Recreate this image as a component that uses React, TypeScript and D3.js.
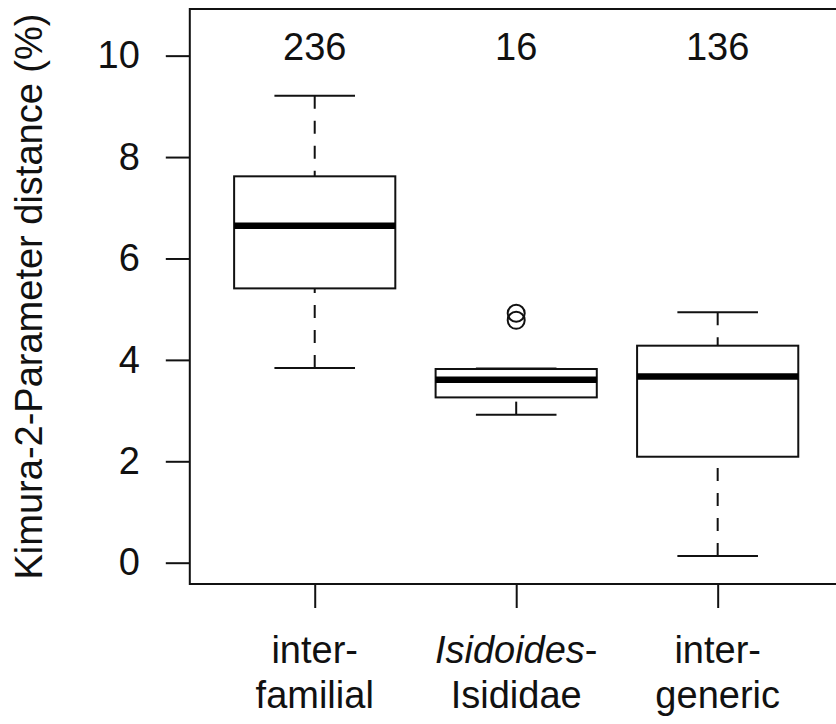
import React, { useEffect, useRef } from 'react';
import * as d3 from 'd3';

// box statistics (K2P distance, %)
const groupLine1 = ['inter-', 'Isidoides', 'inter-'];
const groupLine2 = ['familial', 'Isididae', 'generic'];
const counts = [236, 16, 136];
const whiskerLow = [3.84, 2.92, 0.13];
const q1 = [5.41, 3.26, 2.09];
const median = [6.645, 3.61, 3.67];
const q3 = [7.62, 3.82, 4.28];
const whiskerHigh = [9.21, 3.83, 4.94];
const outliers = [[], [4.78, 4.92], []];
const yTicks = [0, 2, 4, 6, 8, 10];

const App = () => {
    const ref = useRef<SVGSVGElement>(null);

    useEffect(() => {
        const width = 836;
        const height = 724;
        const font = '"Liberation Sans", Arial, Helvetica, sans-serif';
        const fs = 38;

        const svg = d3.select(ref.current)
            .attr('width', width)
            .attr('height', height);
        svg.selectAll('*').remove();

        const x = d3.scaleLinear().domain([0.38, 3.62]).range([189.8, 842.6]);
        const y = d3.scaleLinear().domain([-0.42, 10.92]).range([584, 9]);
        const idx = d3.range(counts.length);
        const boxW = x(1.4) - x(1);
        const capW = x(1.2) - x(1);

        // frame
        svg.append('rect')
            .attr('x', x(0.38))
            .attr('y', y(10.92))
            .attr('width', x(3.62) - x(0.38))
            .attr('height', y(-0.42) - y(10.92))
            .attr('fill', 'none')
            .attr('stroke', '#111')
            .attr('stroke-width', 2);

        // y axis
        const yAxis = svg.append('g')
            .attr('transform', `translate(${x(0.38)},0)`)
            .call(d3.axisLeft(y).tickValues(yTicks).tickSize(24).tickPadding(26).tickFormat(d3.format('d')));
        yAxis.select('.domain').remove();
        yAxis.selectAll('line').attr('stroke', '#111').attr('stroke-width', 2);
        yAxis.selectAll('text')
            .attr('font-family', font)
            .attr('font-size', fs)
            .attr('fill', '#111');

        // x axis ticks
        const xAxis = svg.append('g')
            .attr('transform', `translate(0,${y(-0.42)})`)
            .call(d3.axisBottom(x).tickValues([1, 2, 3]).tickSize(24).tickFormat(() => ''));
        xAxis.select('.domain').remove();
        xAxis.selectAll('line').attr('stroke', '#111').attr('stroke-width', 2);

        // x labels (two lines)
        const lab = svg.append('g')
            .attr('font-family', font)
            .attr('font-size', fs)
            .attr('fill', '#111')
            .attr('text-anchor', 'middle');
        idx.forEach(i => {
            const t1 = lab.append('text').attr('x', x(i + 1)).attr('y', 663);
            if (i === 1) {
                t1.append('tspan').attr('font-style', 'italic').text(groupLine1[i]);
                t1.append('tspan').text('-');
            } else {
                t1.text(groupLine1[i]);
            }
            lab.append('text').attr('x', x(i + 1)).attr('y', 708).text(groupLine2[i]);
        });

        // y title
        svg.append('text')
            .attr('transform', `translate(42,${(y(10.92) + y(-0.42)) / 2}) rotate(-90)`)
            .attr('text-anchor', 'middle')
            .attr('font-family', font)
            .attr('font-size', fs)
            .attr('fill', '#111')
            .text('Kimura-2-Parameter distance (%)');

        // sample sizes
        svg.append('g').selectAll('text')
            .data(idx)
            .enter()
            .append('text')
            .attr('x', i => x(i + 1))
            .attr('y', 60)
            .attr('text-anchor', 'middle')
            .attr('font-family', font)
            .attr('font-size', fs)
            .attr('fill', '#111')
            .text(i => counts[i]);

        const g = svg.append('g').attr('stroke', '#111').attr('fill', 'none');

        // whiskers, drawn from the cap towards the box
        idx.forEach(i => {
            const cx = x(i + 1);
            g.append('line')
                .attr('x1', cx).attr('x2', cx)
                .attr('y1', y(whiskerHigh[i])).attr('y2', y(q3[i]))
                .attr('stroke-width', 2).attr('stroke-dasharray', '13,12');
            g.append('line')
                .attr('x1', cx).attr('x2', cx)
                .attr('y1', y(whiskerLow[i])).attr('y2', y(q1[i]))
                .attr('stroke-width', 2).attr('stroke-dasharray', '13,12');
            [whiskerHigh[i], whiskerLow[i]].forEach(v => {
                g.append('line')
                    .attr('x1', cx - capW).attr('x2', cx + capW)
                    .attr('y1', y(v)).attr('y2', y(v))
                    .attr('stroke-width', 2);
            });
            g.append('rect')
                .attr('x', cx - boxW)
                .attr('y', y(q3[i]))
                .attr('width', boxW * 2)
                .attr('height', y(q1[i]) - y(q3[i]))
                .attr('fill', 'white')
                .attr('stroke-width', 2);
            g.append('line')
                .attr('x1', cx - boxW).attr('x2', cx + boxW)
                .attr('y1', y(median[i])).attr('y2', y(median[i]))
                .attr('stroke', '#000')
                .attr('stroke-width', 6.5);
            outliers[i].forEach(v => {
                g.append('circle')
                    .attr('cx', cx)
                    .attr('cy', y(v))
                    .attr('r', 8.5)
                    .attr('stroke-width', 2);
            });
        });
    }, []);

    return <svg ref={ref} style={{ position: 'absolute', left: 0, top: 0, background: 'white' }}></svg>;
};

export default App;
